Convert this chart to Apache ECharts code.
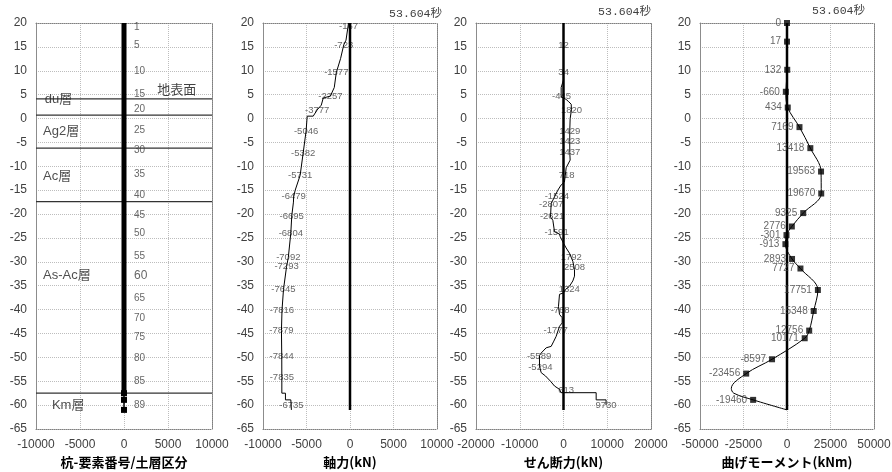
<!DOCTYPE html>
<html><head><meta charset="utf-8">
<script src="https://cdn.jsdelivr.net/npm/echarts/dist/echarts.min.js"></script>
<style>html,body{margin:0;padding:0;background:#fff}#c{width:892px;height:472px}</style>
</head><body><div id="c"></div>
<script>
// ---------------- data ----------------
const elevMin = -65, elevMax = 20, elevStep = 5;
const timeTitle = '53.604秒';
const axisNames = ['杭-要素番号/土層区分', '軸力(kN)', 'せん断力(kN)', '曲げモーメント(kNm)'];
const xRanges = [[-10000, 10000, 5000], [-10000, 10000, 5000], [-20000, 20000, 10000], [-50000, 50000, 25000]];

// panel 1 : pile nodes & soil layers
const nodeNos      = [1, 5, 10, 15, 20, 25, 30, 35, 40, 45, 50, 55, 60, 65, 70, 75, 80, 85, 89];
const nodeLabelEl  = [19.2, 15.4, 9.8, 5.1, 1.9, -2.5, -6.7, -11.6, -16, -20.2, -24, -28.9, -32.9, -37.6, -41.8, -45.8, -50.1, -54.9, -60.1];
const pileThickEl  = [20, -57.5];
const pileLowerEl  = [-57.5, -58.9, -61];
const layerBoundaryEl = [4.1, 0.7, -6.2, -17.4, -57.5];
const layerNames   = ['du層', 'Ag2層', 'Ac層', 'As-Ac層', 'Km層'];
const layerLabelX  = [-9000, -9200, -9200, -9200, -8200];
const layerLabelEl = [4.1, -2.8, -12.2, -32.9, -60];
const groundText   = '地表面';
const groundPos    = [3770, 6.2];

// panel 2 : axial force
const axialProfileX  = [-167, -460, -723, -1077, -1577, -1807, -2257, -2307, -3075, -3300, -3777, -4229, -4920, -5046, -5382, -5731, -6300, -6479, -6500, -6695, -6804, -7092, -7293, -7645, -7816, -7879, -7844, -7835, -7835, -7420, -7420, -6800, -6735];
const axialProfileEl = [20, 16.4, 15.4, 12.6, 9.6, 6.5, 4.7, 4.3, 4.3, 2.8, 1.8, 0.5, 0.5, -2.6, -7.2, -11.9, -15, -16.4, -17.5, -20.4, -24, -29.1, -31, -35.8, -40.1, -44.4, -49.7, -54.2, -57.5, -57.5, -58.9, -58.9, -61];
const axialLabelVal  = [-167, -723, -1577, -2257, -3777, -5046, -5382, -5731, -6479, -6695, -6804, -7092, -7293, -7645, -7816, -7879, -7844, -7835, -6735];
const axialLabelEl   = [19.2, 15.4, 9.6, 4.7, 1.8, -2.6, -7.2, -11.9, -16.4, -20.4, -24.0, -29.1, -31.0, -35.8, -40.1, -44.4, -49.7, -54.2, -60.0];

// panel 3 : shear force
const shearProfileX  = [0, 0, -533, -533, 0, 610, 1210, 1760, 1820, 1520, 1429, 1423, 1437, 1520, 610, 400, 200, -533, -1295, -2057, -2819, -2971, -2438, -2057, -914, -762, 0, 610, 1371, 2133, 2514, 2514, 2133, 1371, 457, 0, -914, -1143, -914, -305, -305, -914, -1676, -2210, -2819, -3962, -5105, -5486, -5486, -5105, -4114, -2971, -2057, -914, -533, 7467, 7467, 9730, 9730];
const shearProfileEl = [20, 8.1, 6.5, 4.5, 4.3, 4.0, 3.5, 3.0, 1.8, 0, -2.6, -4.8, -7.1, -8.7, -10.3, -12, -13.3, -13.9, -15, -16.4, -17.8, -20.6, -21.3, -23.7, -24.2, -24.7, -26.1, -27.1, -28.2, -29.9, -31.6, -33, -34, -35.1, -35.8, -36.5, -36.8, -39.3, -41, -41.7, -42.8, -43.5, -45.6, -46.6, -47.7, -48, -49.1, -49.6, -51.8, -53.2, -53.9, -55, -56, -56.7, -57.4, -57.4, -58.9, -58.9, -60];
const shearLabelVal  = [12, 34, -445, 1820, 1429, 1423, 1437, 718, -1524, -2807, -2621, -1591, 1792, 2508, 1324, -768, -1777, -5589, -5294, 613, 9730];
const shearLabelEl   = [15.4, 9.6, 4.7, 1.8, -2.6, -4.8, -7.1, -11.8, -16.2, -17.9, -20.4, -23.9, -29.1, -31.1, -35.7, -40.1, -44.4, -49.7, -52.1, -57.0, -60.0];

// panel 4 : bending moment
const momentCurveX  = [0, 17, 132, -660, 434, 7169, 13418, 19563, 19670, 9325, 2776, -301, -913, 2893, 7727, 17751, 15348, 12756, 10171, -8597, -23456, -32000, -30600, -19460, 0];
const momentCurveEl = [20, 16.1, 10.2, 5.6, 2.3, -1.8, -6.2, -11.1, -15.7, -19.8, -22.6, -24.4, -26.3, -29.4, -31.4, -35.9, -40.3, -44.4, -46.0, -50.4, -53.4, -56.5, -57.5, -58.9, -61];
const momentLabelVal = [0, 17, 132, -660, 434, 7169, 13418, 19563, 19670, 9325, 2776, -301, -913, 2893, 7727, 17751, 15348, 12756, 10171, -8597, -23456, -19460];
const momentLabelEl  = [20, 16.1, 10.2, 5.6, 2.3, -1.8, -6.2, -11.1, -15.7, -19.8, -22.6, -24.4, -26.3, -29.4, -31.4, -35.9, -40.3, -44.4, -46.0, -50.4, -53.4, -58.9];

// ---------------- chart ----------------
const zip = (a, b) => a.map((v, i) => [v, b[i]]);
const numFont = '"Liberation Sans", "Noto Sans CJK JP", sans-serif';
const cjkFont = '"Noto Sans CJK JP", sans-serif';
const gridPos = [[36, 176], [263, 174], [476, 175], [700, 174]];
const plain = v => String(v);

const grid = gridPos.map(g => ({ left: g[0], width: g[1], top: 23, height: 406, containLabel: false, outerBoundsMode: 'none' }));
const xAxis = [], yAxis = [];
for (let i = 0; i < 4; i++) {
  const [mn, mx, iv] = xRanges[i];
  xAxis.push({
    type: 'value', gridIndex: i, min: mn, max: mx, interval: iv, position: 'bottom',
    axisLine: { show: true, onZero: false, lineStyle: { color: '#7f7f7f', type: 'dotted', width: 1 } },
    axisTick: { show: false },
    axisLabel: { fontSize: 12, color: '#404040', margin: 10, fontFamily: numFont, formatter: plain },
    splitLine: { show: true, lineStyle: { color: '#bdbdbd', type: 'dotted', width: 1 } },
    name: axisNames[i], nameLocation: 'middle', nameGap: 25,
    nameTextStyle: { fontSize: 13, fontWeight: 'bold', color: '#000', fontFamily: cjkFont }
  });
  xAxis.push({
    type: 'value', gridIndex: i, min: mn, max: mx, interval: iv, position: 'top',
    axisLine: { show: true, onZero: false, lineStyle: { color: '#7f7f7f', type: 'dotted', width: 1 } },
    axisTick: { show: false }, axisLabel: { show: false }, splitLine: { show: false }
  });
  yAxis.push({
    type: 'value', gridIndex: i, min: elevMin, max: elevMax, interval: elevStep, position: 'left',
    axisLine: { show: true, onZero: false, lineStyle: { color: '#8c8c8c', width: 1 } },
    axisTick: { show: false },
    axisLabel: { fontSize: 12, color: '#404040', margin: 9, fontFamily: numFont, formatter: plain },
    splitLine: { show: true, lineStyle: { color: '#bdbdbd', type: 'dotted', width: 1 } }
  });
  yAxis.push({
    type: 'value', gridIndex: i, min: elevMin, max: elevMax, interval: elevStep, position: 'right',
    axisLine: { show: true, onZero: false, lineStyle: { color: '#7f7f7f', type: 'dotted', width: 1 } },
    axisTick: { show: false }, axisLabel: { show: false }, splitLine: { show: false }
  });
}

const ax = i => ({ xAxisIndex: 2 * i, yAxisIndex: 2 * i });
const series = [];
const blank = 'rgba(0,0,0,0)';

// panel 1
layerBoundaryEl.forEach(el => {
  series.push(Object.assign({ type: 'line', data: [[-10000, el], [10000, el]], showSymbol: false, symbol: 'none',
    lineStyle: { color: '#333', width: 1.2 }, silent: true, z: 2 }, ax(0)));
});
series.push(Object.assign({ type: 'line', data: pileThickEl.map(e => [0, e]), symbol: 'none',
  lineStyle: { color: '#000', width: 5 }, z: 3 }, ax(0)));
series.push(Object.assign({ type: 'line', data: pileLowerEl.map(e => [0, e]), symbol: 'rect', symbolSize: 6, showSymbol: true,
  itemStyle: { color: '#000' }, lineStyle: { color: '#000', width: 1.5 }, z: 3 }, ax(0)));
series.push(Object.assign({ type: 'scatter', symbolSize: 0.1, itemStyle: { color: blank },
  data: nodeNos.map((n, i) => ({ value: [0, nodeLabelEl[i]], name: String(n),
    label: { fontSize: n === 60 ? 12 : 10 } })),
  label: { show: true, position: 'right', distance: 10, formatter: '{b}', color: '#404040', fontFamily: numFont }, z: 5 }, ax(0)));
series.push(Object.assign({ type: 'scatter', symbolSize: 0.1, itemStyle: { color: blank },
  data: layerNames.map((n, i) => ({ value: [layerLabelX[i], layerLabelEl[i]], name: n })),
  label: { show: true, position: 'right', distance: 0, formatter: '{b}', color: '#222', fontSize: 13, fontFamily: numFont }, z: 5 }, ax(0)));
series.push(Object.assign({ type: 'scatter', symbolSize: 0.1, itemStyle: { color: blank },
  data: [{ value: groundPos, name: groundText }],
  label: { show: true, position: 'right', distance: 0, formatter: '{b}', color: '#111', fontSize: 13, fontFamily: cjkFont }, z: 5 }, ax(0)));

// zero lines panels 2-4
for (let i = 1; i < 4; i++) {
  series.push(Object.assign({ type: 'line', data: [[0, 20], [0, -61]], symbol: 'none',
    lineStyle: { color: '#000', width: 2.5 }, z: 4 }, ax(i)));
}
// panel 2
series.push(Object.assign({ type: 'line', data: zip(axialProfileX, axialProfileEl), symbol: 'none',
  lineStyle: { color: '#000', width: 1 }, z: 3 }, ax(1)));
series.push(Object.assign({ type: 'scatter', symbolSize: 0.1, itemStyle: { color: blank },
  data: axialLabelVal.map((v, i) => ({ value: [v, axialLabelEl[i]], name: String(v) })),
  label: { show: true, position: 'inside', formatter: '{b}', color: '#404040', fontSize: 9.5, fontFamily: numFont }, z: 2 }, ax(1)));
// panel 3
series.push(Object.assign({ type: 'line', data: zip(shearProfileX, shearProfileEl), symbol: 'none',
  lineStyle: { color: '#000', width: 1 }, z: 3 }, ax(2)));
series.push(Object.assign({ type: 'scatter', symbolSize: 0.1, itemStyle: { color: blank },
  data: shearLabelVal.map((v, i) => ({ value: [v, shearLabelEl[i]], name: String(v) })),
  label: { show: true, position: 'inside', formatter: '{b}', color: '#404040', fontSize: 9.5, fontFamily: numFont }, z: 2 }, ax(2)));
// panel 4
series.push(Object.assign({ type: 'line', data: zip(momentCurveX, momentCurveEl), symbol: 'none', smooth: 0.35,
  lineStyle: { color: '#000', width: 1 }, z: 3 }, ax(3)));
series.push(Object.assign({ type: 'scatter', symbol: 'rect', symbolSize: 6, itemStyle: { color: '#000' },
  data: momentLabelVal.map((v, i) => ({ value: [v, momentLabelEl[i]], name: String(v) })),
  label: { show: true, position: 'left', distance: 3, formatter: '{b}', color: '#404040', fontSize: 10, fontFamily: numFont }, z: 5 }, ax(3)));

const titleRight = [[892 - 442, 8], [892 - 651, 6], [892 - 865, 5]];
const title = titleRight.map(t => ({ text: timeTitle, right: t[0], top: t[1], padding: 0,
  textStyle: { fontSize: 11.5, fontWeight: 'normal', color: '#404040', fontFamily: '"Liberation Mono", "Noto Sans CJK JP", monospace' } }));

const chart = echarts.init(document.getElementById('c'));
chart.setOption({ animation: false, backgroundColor: '#fff', title, grid, xAxis, yAxis, series, tooltip: { show: false } });
</script></body></html>
